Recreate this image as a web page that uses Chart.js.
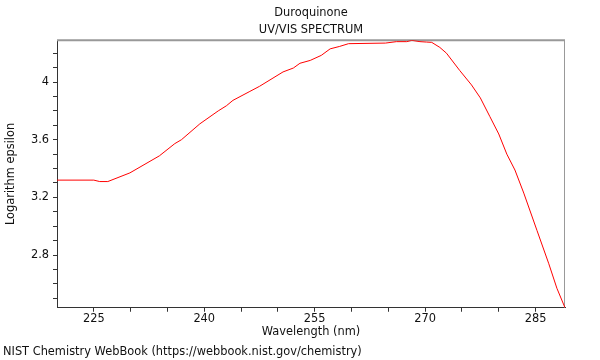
<!doctype html>
<html>

<head>
	<title>Duroquinone UV/VIS</title>
	<script src="https://cdn.jsdelivr.net/npm/chart.js@4/dist/chart.umd.min.js"></script>
	<style>
	body {
		margin: 0;
		background: #fff;
	}
	#container {
		width: 600px;
		height: 360px;
	}
	</style>
</head>

<body>
	<div id="container">
		<canvas id="canvas"></canvas>
	</div>
	<script>
		const wavelength = [220, 225, 225.8, 226.9, 229.9, 233.9, 236.0, 236.9, 239.4, 241.9, 243.0, 243.9, 246.2, 247.5,
			250.7, 252.1, 253.0, 254.4, 255.9, 257.1, 258.4, 259.6, 264.6, 266.1, 267.5, 268.2, 269.3, 270.2, 270.9,
			272.0, 272.9, 274.7, 276.3, 277.5, 278.8, 280.0, 281.1, 282.2, 283.4, 285.2, 286.8, 287.9, 289.0];
		const logEpsilon = [3.32, 3.32, 3.31, 3.31, 3.37, 3.488, 3.573, 3.60, 3.71, 3.80, 3.835, 3.873, 3.935, 3.97,
			4.07, 4.097, 4.13, 4.15, 4.185, 4.23, 4.247, 4.266, 4.27, 4.28, 4.28, 4.289, 4.28, 4.277, 4.275,
			4.24, 4.20, 4.08, 3.98, 3.89, 3.76, 3.64, 3.50, 3.39, 3.23, 2.97, 2.74, 2.57, 2.435];

		const xTicks = [225, 230, 235, 240, 245, 250, 255, 260, 265, 270, 275, 280, 285];
		const xLabels = [225, 240, 255, 270, 285];
		const yTicks = [2.5, 2.6, 2.7, 2.8, 2.9, 3.0, 3.1, 3.2, 3.3, 3.4, 3.5, 3.6, 3.7, 3.8, 3.9, 4.0, 4.1, 4.2];
		const yLabels = [2.8, 3.2, 3.6, 4];

		const points = wavelength.map((w, i) => ({x: w, y: logEpsilon[i]}));
		const font = {family: 'DejaVu Sans', size: 11.4};

		// grey frame on top/right like the original plot box
		const frame = {
			id: 'frame',
			beforeDatasetsDraw(chart) {
				const a = chart.chartArea;
				const c = chart.ctx;
				c.save();
				c.strokeStyle = '#999';
				c.lineWidth = 2;
				c.beginPath();
				c.moveTo(a.left, a.top);
				c.lineTo(a.right, a.top);
				c.stroke();
				c.lineWidth = 1;
				c.beginPath();
				c.moveTo(a.right - 0.5, a.top);
				c.lineTo(a.right - 0.5, a.bottom);
				c.stroke();
				c.restore();
			}
		};

		window.onload = function() {
			const ctx = document.getElementById('canvas').getContext('2d');
			window.myChart = new Chart(ctx, {
				type: 'line',
				data: {
					datasets: [{
						data: points,
						borderColor: 'rgb(255, 0, 0)',
						borderWidth: 1,
						pointRadius: 0,
						tension: 0,
						fill: false
					}]
				},
				options: {
					responsive: true,
					maintainAspectRatio: false,
					animation: false,
					layout: {
						padding: {left: 3, right: 35, top: 0, bottom: 0}
					},
					plugins: {
						legend: {display: false},
						tooltip: {enabled: false},
						title: {
							display: true,
							fullSize: false,
							text: ['Duroquinone', 'UV/VIS SPECTRUM'],
							color: '#111',
							font: {family: 'DejaVu Sans', size: 11.4, weight: 'normal', lineHeight: 1.5},
							padding: {top: 4.5, bottom: 1.5}
						},
						subtitle: {
							display: true,
							position: 'bottom',
							align: 'start',
							text: 'NIST Chemistry WebBook (https://webbook.nist.gov/chemistry)',
							color: '#111',
							font: font,
							padding: {top: 6, bottom: 1.2}
						}
					},
					scales: {
						x: {
							type: 'linear',
							min: 220,
							max: 289,
							afterBuildTicks(axis) {
								axis.ticks = xTicks.map(v => ({value: v}));
							},
							ticks: {
								autoSkip: false,
								maxRotation: 0,
								padding: 0,
								color: '#111',
								font: font,
								callback: (v) => xLabels.includes(v) ? String(v) : ''
							},
							grid: {
								drawOnChartArea: false,
								tickLength: 4,
								tickColor: '#333'
							},
							border: {color: '#333', width: 1},
							title: {
								display: true,
								text: 'Wavelength (nm)',
								color: '#111',
								font: font,
								padding: {top: 0, bottom: 0}
							}
						},
						y: {
							min: 2.435,
							max: 4.29,
							afterBuildTicks(axis) {
								axis.ticks = yTicks.map(v => ({value: v}));
							},
							afterFit(axis) {
								axis.width = 54;
							},
							ticks: {
								autoSkip: false,
								padding: 4,
								color: '#111',
								font: font,
								callback: (v) => yLabels.some(l => Math.abs(l - v) < 1e-6) ? String(v) : ''
							},
							grid: {
								drawOnChartArea: false,
								tickLength: 4,
								tickColor: '#333'
							},
							border: {color: '#333', width: 1},
							title: {
								display: true,
								text: 'Logarithm epsilon',
								color: '#111',
								font: font,
								padding: {top: 1, bottom: 4}
							}
						}
					}
				},
				plugins: [frame]
			});
		};
	</script>
</body>

</html>
